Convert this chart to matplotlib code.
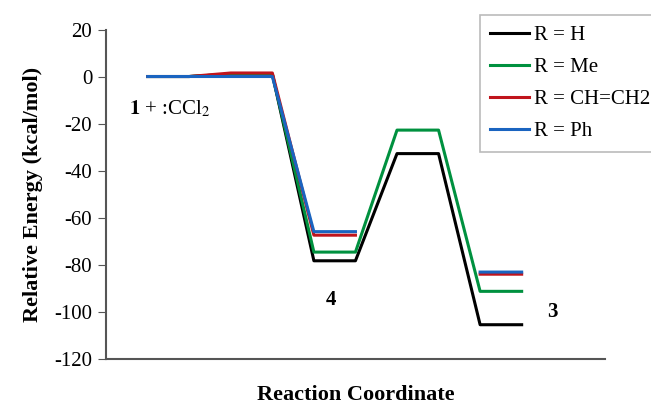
import numpy as np
import matplotlib.pyplot as plt

plt.rcParams['font.family'] = ['Liberation Serif', 'DejaVu Serif']
plt.rcParams['axes.unicode_minus'] = False

# reaction coordinate points (plateaus drawn as pairs of points)
x = [1, 2, 3, 4, 5, 6, 7, 8, 9, 10]
nan = np.nan
e_h = [0, 0, 1, 1, -78.4, -78.4, -32.8, -32.8, -105.6, -105.6]
e_me = [0, 0, 1, 1, -74.7, -74.7, -22.8, -22.8, -91.4, -91.4]
e_vinyl = [0, 0, 1.5, 1.5, -67.5, -67.5, nan, nan, -84.1, -84.1]
e_ph = [0, 0, 0, 0, -66.0, -66.0, nan, nan, -83.2, -83.2]

labels = ["R = H", "R = Me", "R = CH=CH2", "R = Ph"]
colors = ["#000000", "#00913f", "#c0141c", "#1a64c0"]

fig = plt.figure(figsize=(6.51, 4.07), dpi=100)
ax = fig.add_axes([0.163, 0.119, 0.766, 0.8085])

for e, lab, c in zip([e_h, e_me, e_vinyl, e_ph], labels, colors):
    ax.plot(x, e, color=c, lw=2.2, label=lab)

ax.set_xlim(0, 12)
ax.set_ylim(-120, 20)
ax.set_yticks(np.arange(-120, 21, 20))
ax.set_xticks([])
ax.tick_params(axis='y', labelsize=15, length=6, color='#555555', direction='out', pad=4)
for s in ['top', 'right']:
    ax.spines[s].set_visible(False)
ax.spines['left'].set_color('#555555')
ax.spines['bottom'].set_color('#555555')
ax.spines['left'].set_linewidth(1.5)
ax.spines['bottom'].set_linewidth(1.5)

ax.set_ylabel("Relative Energy (kcal/mol)", fontsize=16, fontweight='bold', labelpad=8)
ax.set_xlabel("Reaction Coordinate", fontsize=16, fontweight='bold', labelpad=19)

ax.text(0.55, -14, r"$\mathbf{1}$ + :CCl$_2$", fontsize=15, ha='left', va='center',
        math_fontfamily='stix')
ax.text(5.4, -95, "4", fontsize=15, fontweight='bold', ha='center', va='center')
ax.text(10.75, -100, "3", fontsize=15, fontweight='bold', ha='center', va='center')

leg = fig.legend(loc='upper left', bbox_to_anchor=(0.737, 0.963), fontsize=15,
                 handlelength=1.85, handletextpad=0.25, labelspacing=0.6,
                 frameon=True, fancybox=False, borderaxespad=0, borderpad=0.5)
leg.get_frame().set_edgecolor('#aaaaaa')
leg.get_frame().set_linewidth(1.2)

fig.savefig("out.png", dpi=100)
